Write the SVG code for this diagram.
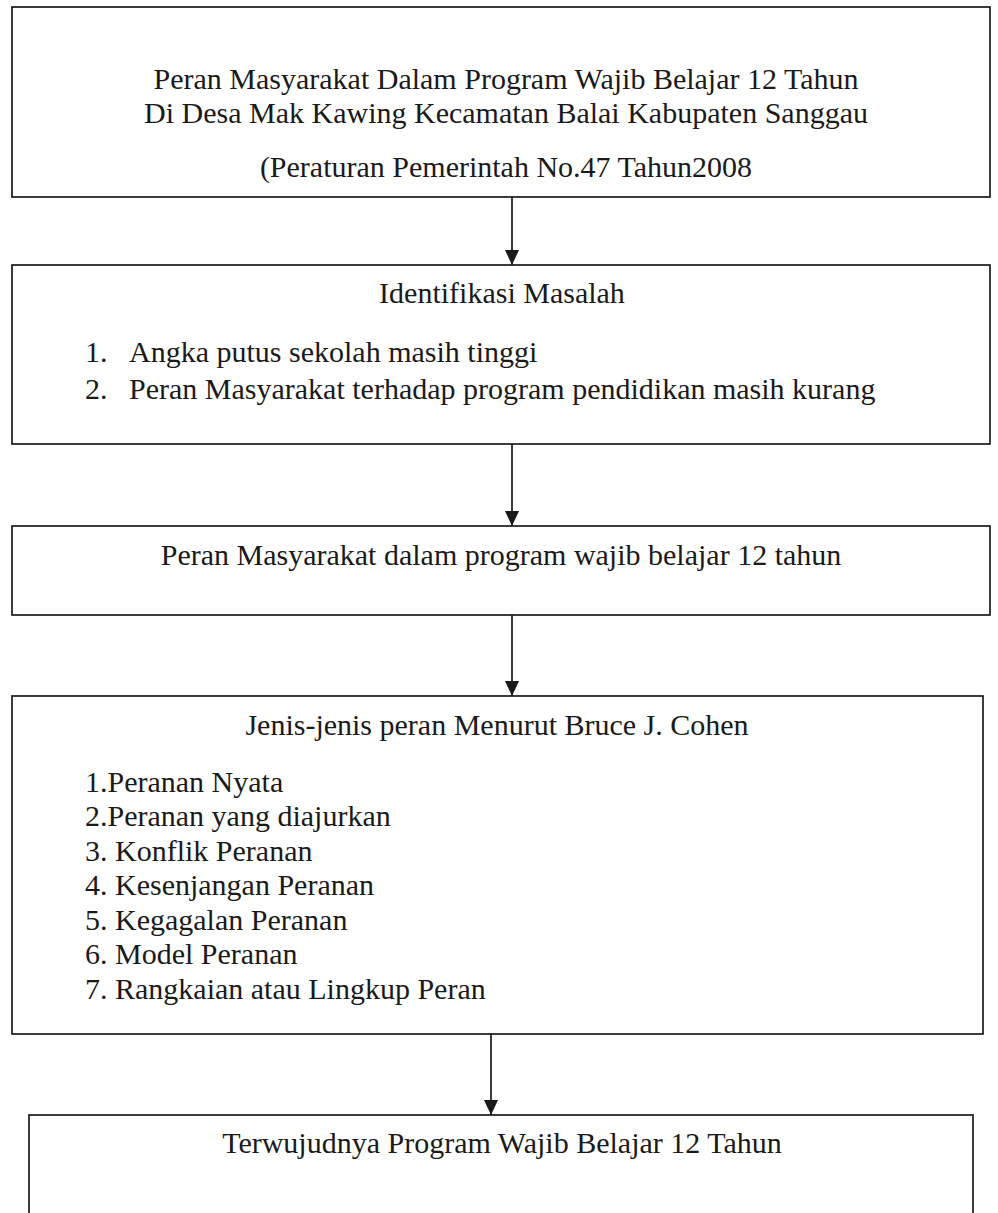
<svg xmlns="http://www.w3.org/2000/svg" width="998" height="1213" viewBox="0 0 998 1213">
<style>
.box{fill:#fff;stroke:#1a1a1a;stroke-width:1.7}
.t{font-family:"Liberation Serif","Times New Roman",serif;font-size:30px;fill:#1a1a1a}
.c{text-anchor:middle}
.conn{stroke:#1a1a1a;stroke-width:1.7;fill:none}
</style>
<defs>
<marker id="ah" markerUnits="userSpaceOnUse" markerWidth="15" markerHeight="14" refX="15" refY="7" orient="auto" viewBox="0 0 15 14">
<polygon points="0,0 15,7 0,14" fill="#1a1a1a"/>
</marker>
</defs>
<rect width="998" height="1213" fill="#fff"/>
<g id="connectors">
<line class="conn" x1="512" y1="197" x2="512" y2="265" marker-end="url(#ah)"/>
<line class="conn" x1="512" y1="444" x2="512" y2="526" marker-end="url(#ah)"/>
<line class="conn" x1="512" y1="615" x2="512" y2="696" marker-end="url(#ah)"/>
<line class="conn" x1="491" y1="1034" x2="491" y2="1115" marker-end="url(#ah)"/>
</g>
<g id="node1">
<rect class="box" x="12" y="7" width="978" height="190"/>
<text class="t c" x="506" y="89">Peran Masyarakat Dalam Program Wajib Belajar 12 Tahun</text>
<text class="t c" x="506" y="123">Di Desa Mak Kawing Kecamatan Balai Kabupaten Sanggau</text>
<text class="t c" x="506" y="177">(Peraturan Pemerintah No.47 Tahun2008</text>
</g>
<g id="node2">
<rect class="box" x="12" y="265" width="978" height="179"/>
<text class="t c" x="502" y="303">Identifikasi Masalah</text>
<text class="t" x="85" y="362">1.</text>
<text class="t" x="129" y="362">Angka putus sekolah masih tinggi</text>
<text class="t" x="85" y="399">2.</text>
<text class="t" x="129" y="399">Peran Masyarakat terhadap program pendidikan masih kurang</text>
</g>
<g id="node3">
<rect class="box" x="12" y="526" width="978" height="89"/>
<text class="t c" x="501" y="565">Peran Masyarakat dalam program wajib belajar 12 tahun</text>
</g>
<g id="node4">
<rect class="box" x="12" y="696" width="971" height="338"/>
<text class="t c" x="497" y="735">Jenis-jenis peran Menurut Bruce J. Cohen</text>
<text class="t" x="85" y="792">1.Peranan Nyata</text>
<text class="t" x="85" y="826">2.Peranan yang diajurkan</text>
<text class="t" x="85" y="861">3. Konflik Peranan</text>
<text class="t" x="85" y="895">4. Kesenjangan Peranan</text>
<text class="t" x="85" y="930">5. Kegagalan Peranan</text>
<text class="t" x="85" y="964">6. Model Peranan</text>
<text class="t" x="85" y="999">7. Rangkaian atau Lingkup Peran</text>
</g>
<g id="node5">
<rect class="box" x="29" y="1115" width="944" height="120"/>
<text class="t c" x="502" y="1153">Terwujudnya Program Wajib Belajar 12 Tahun</text>
</g>
</svg>
